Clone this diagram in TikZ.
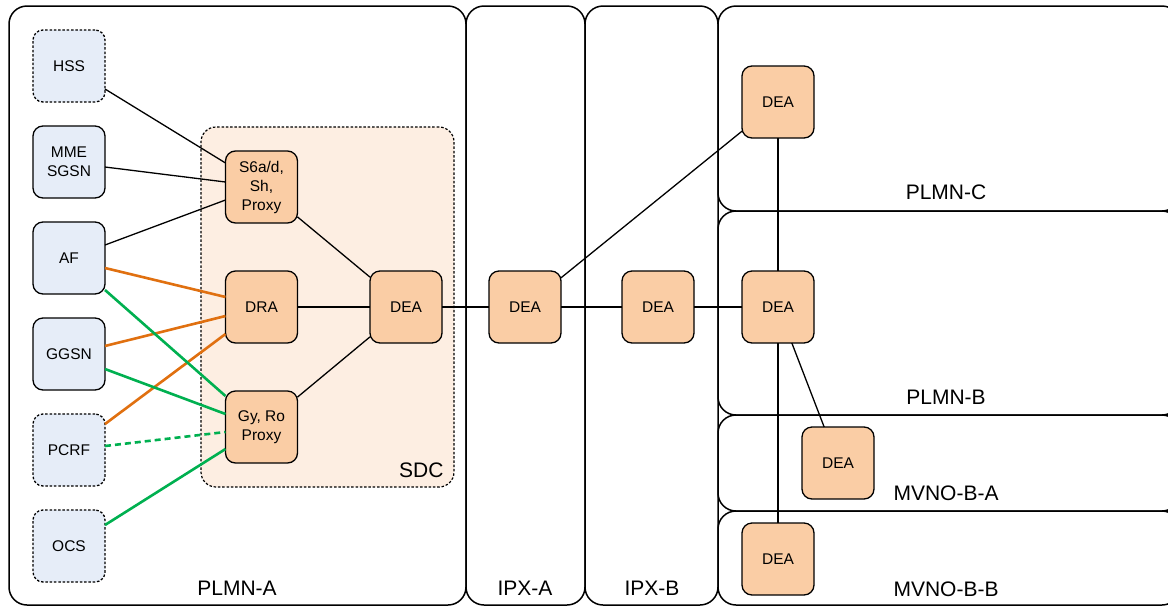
\documentclass[tikz,border=0pt]{standalone}
\usepackage{fontspec}
\setmainfont{Liberation Sans}
\usetikzlibrary{positioning}
\definecolor{elemblue}{HTML}{E6EDF8}
\definecolor{agentorange}{HTML}{FACDA5}
\definecolor{sdcfill}{HTML}{FDEEE2}
\definecolor{linkorange}{HTML}{E07010}
\definecolor{linkgreen}{HTML}{00B050}
\tikzset{
  font=\fontsize{15.5}{19}\selectfont,
  elem/.style   ={draw, line width=1.3pt, rounded corners=10pt, minimum width=72pt, minimum height=72pt, inner sep=1pt, outer sep=0pt, align=center, fill=elemblue},
  elemopt/.style={elem, dash pattern=on 2.5pt off 1.8pt},
  agent/.style  ={draw, line width=1.3pt, rounded corners=10pt, minimum width=72pt, minimum height=72pt, inner sep=1pt, outer sep=0pt, align=center, fill=agentorange},
  sdcbox/.style ={draw, line width=1.2pt, dash pattern=on 2.5pt off 1.8pt, rounded corners=15pt, fill=sdcfill},
  region/.style ={draw, line width=1.5pt, rounded corners=18pt},
  reglbl/.style ={font=\fontsize{21}{25}\selectfont, anchor=base},
  link/.style   ={line width=1.3pt},
  olink/.style  ={line width=2.6pt, linkorange},
  glink/.style  ={line width=2.6pt, linkgreen},
  glinkd/.style ={glink, dash pattern=on 6pt off 4pt},
}

\begin{document}
\begin{tikzpicture}[x=1pt, y=-1pt]
  \useasboundingbox (0,0) rectangle (1168,606);
  \clip (0,0) rectangle (1168,606);

  % operator domains
  \draw[region] (9,6) rectangle (466,605);
  \draw[region] (466,6) rectangle (585,605);
  \draw[region] (585,6) rectangle (718,605);
  \draw[region] (718,6) rectangle (1180,211);
  \draw[region] (718,211) rectangle (1180,415);
  \draw[region] (718,415) rectangle (1180,511);
  \draw[region] (718,511) rectangle (1180,605);
  \node[reglbl] (plmna) at (237,595) {PLMN-A};
  \node[reglbl] (ipxa) at (525,595) {IPX-A};
  \node[reglbl] (ipxb) at (652,595) {IPX-B};
  \node[reglbl] (plmnc) at (946,199) {PLMN-C};
  \node[reglbl] (plmnb) at (946,404) {PLMN-B};
  \node[reglbl] (mvnoa) at (946,500) {MVNO-B-A};
  \node[reglbl] (mvnob) at (946,596) {MVNO-B-B};

  % SDC
  \node[sdcbox, minimum width=253pt, minimum height=360pt] (sdc) at (327.5,307) {};
  \node[reglbl, anchor=base east] (sdclbl) at (447,477) {SDC};

  % PLMN-A elements
  \node[elemopt] (hss) at (69,66) {HSS};
  \node[elem, below=24pt of hss] (mme) {MME\\SGSN};
  \node[elem, below=24pt of mme] (af) {AF};
  \node[elem, below=24pt of af] (ggsn) {GGSN};
  \node[elemopt, below=24pt of ggsn] (pcrf) {PCRF};
  \node[elemopt, below=24pt of pcrf] (ocs) {OCS};

  \node[agent] (s6a) at (261.5,187) {S6a/d,\\Sh,\\Proxy};
  \node[agent] (dra) at (261.5,307) {DRA};
  \node[agent] (gy) at (261.5,427) {Gy, Ro\\Proxy};
  \node[agent] (sdcdea) at (406,307) {DEA};

  % DEAs along the chain
  \node[agent, right=47pt of sdcdea] (ipxadea) {DEA};
  \node[agent, right=61pt of ipxadea] (ipxbdea) {DEA};
  \node[agent, right=48pt of ipxbdea] (plmnbdea) {DEA};
  \node[agent, above=133pt of plmnbdea] (plmncdea) {DEA};
  \node[agent] (mvnoadea) at (838,463) {DEA};
  \node[agent, below=180pt of plmnbdea] (mvnobdea) {DEA};

  % S6a/d, Sh
  \draw[link] ([yshift=-23pt]hss.east) -- ([yshift=24pt]s6a.west);
  \draw[link] ([yshift=-5pt]mme.east) -- ([yshift=5pt]s6a.west);
  \draw[link] ([yshift=13pt]af.east) -- ([yshift=-13pt]s6a.west);

  % Rx, Gx
  \draw[olink] ([yshift=-10pt]af.east) -- ([yshift=10pt]dra.west);
  \draw[olink] ([yshift=8pt]ggsn.east) -- ([yshift=-9pt]dra.west);
  \draw[olink] ([yshift=26pt]pcrf.east) -- ([yshift=-27pt]dra.west);

  % Gy, Ro
  \draw[glink] ([yshift=4pt]af.south east) -- ([yshift=31pt]gy.west);
  \draw[glink] ([yshift=-15pt]ggsn.east) -- ([yshift=13pt]gy.west);
  \draw[glinkd] ([yshift=4pt]pcrf.east) -- ([yshift=-5pt]gy.west);
  \draw[glink] ([yshift=21pt]ocs.east) -- ([yshift=-22pt]gy.west);

  % DEA links
  \draw[link] (s6a) -- (sdcdea);
  \draw[link] (dra) -- (sdcdea);
  \draw[link] (gy) -- (sdcdea);
  \draw[link] (sdcdea) -- (ipxadea);
  \draw[link] (ipxadea) -- (ipxbdea);
  \draw[link] (ipxbdea) -- (plmnbdea);
  \draw[link] (ipxadea) -- (plmncdea);
  \draw[link] (plmncdea) -- (plmnbdea);
  \draw[link] (plmnbdea) -- (mvnoadea);
  \draw[link] (plmnbdea) -- (mvnobdea);
\end{tikzpicture}
\end{document}
